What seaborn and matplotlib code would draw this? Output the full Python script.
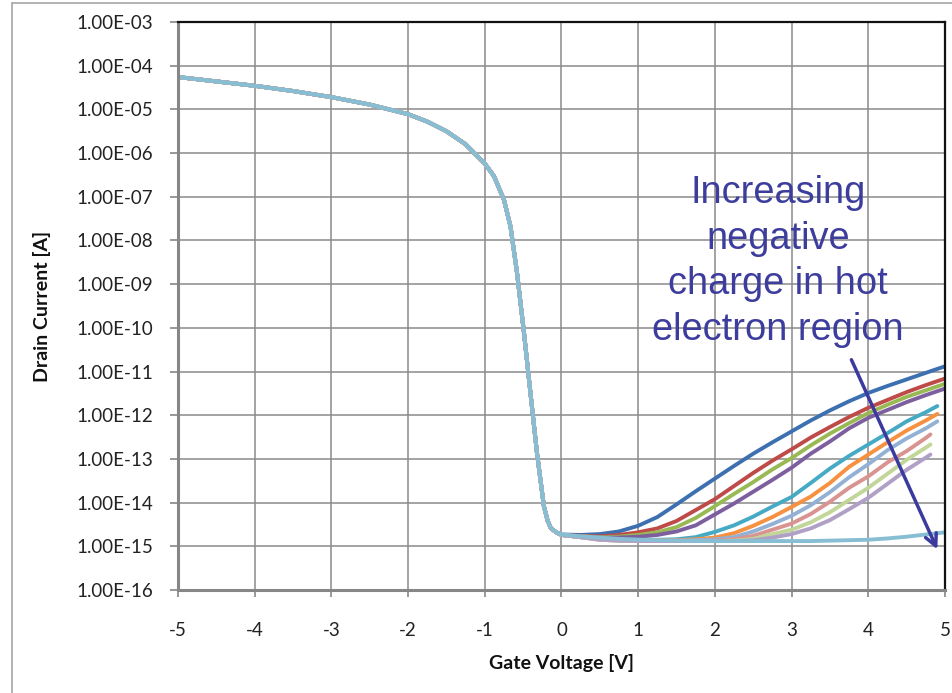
import matplotlib
matplotlib.use("Agg")
import matplotlib.pyplot as plt
import seaborn as sns
import pandas as pd
from matplotlib.ticker import FixedLocator, FixedFormatter, NullLocator
from matplotlib.lines import Line2D

# ---------------- data (log10 of drain current) ----------------
gate_v_sub = [-5.0, -4.5, -4.0, -3.5, -3.0, -2.5, -2.0, -1.75, -1.5, -1.25,
              -1.0, -0.88, -0.75, -0.665, -0.58, -0.49, -0.405, -0.32, -0.23,
              -0.18, -0.14, -0.07]
log_id_sub = [-4.26, -4.36, -4.46, -4.58, -4.72, -4.89, -5.11, -5.28, -5.50, -5.80,
              -6.24, -6.53, -7.07, -7.68, -8.74, -10.10, -11.49, -12.86, -14.08,
              -14.42, -14.58, -14.68]

gate_v_on = [0.0, 0.25, 0.5, 0.75, 1.0, 1.25, 1.5, 1.75, 2.0, 2.25,
             2.5, 2.75, 3.0, 3.25, 3.5, 3.75, 4.0, 4.25, 4.5, 4.75]

series_names = ["s1", "s2", "s3", "s4", "s5", "s6", "s7", "s8", "s9", "s10", "s11"]
series_end_v = [5.0, 5.0, 5.0, 5.0, 4.9, 4.9, 4.9, 4.81, 4.81, 4.81, 5.0]

log_id_s1 = [-14.73, -14.74, -14.72, -14.66, -14.53, -14.33, -14.04, -13.74, -13.45, -13.16,
             -12.88, -12.62, -12.37, -12.12, -11.89, -11.68, -11.49, -11.33, -11.18, -11.03,
             -10.88]
log_id_s2 = [-14.74, -14.76, -14.77, -14.74, -14.68, -14.59, -14.42, -14.17, -13.92, -13.62,
             -13.32, -13.04, -12.78, -12.51, -12.27, -12.04, -11.83, -11.65, -11.47, -11.31,
             -11.16]
log_id_s3 = [-14.74, -14.77, -14.79, -14.78, -14.74, -14.68, -14.56, -14.35, -14.08, -13.80,
             -13.53, -13.24, -12.98, -12.69, -12.42, -12.18, -11.95, -11.76, -11.58, -11.43,
             -11.28]
log_id_s4 = [-14.74, -14.78, -14.80, -14.80, -14.78, -14.74, -14.66, -14.52, -14.27, -14.02,
             -13.75, -13.48, -13.20, -12.88, -12.60, -12.30, -12.06, -11.88, -11.70, -11.54,
             -11.39]
log_id_s5 = [-14.74, -14.79, -14.82, -14.84, -14.85, -14.85, -14.84, -14.79, -14.67, -14.52,
             -14.32, -14.09, -13.87, -13.55, -13.22, -12.93, -12.67, -12.41, -12.14, -11.93,
             -11.79]
log_id_s6 = [-14.74, -14.79, -14.83, -14.85, -14.86, -14.86, -14.86, -14.84, -14.80, -14.70,
             -14.53, -14.33, -14.10, -13.86, -13.55, -13.18, -12.90, -12.62, -12.35, -12.12,
             -11.97]
log_id_s7 = [-14.74, -14.79, -14.84, -14.86, -14.87, -14.87, -14.87, -14.86, -14.84, -14.79,
             -14.66, -14.49, -14.30, -14.06, -13.76, -13.42, -13.12, -12.80, -12.53, -12.30,
             -12.14]
log_id_s8 = [-14.74, -14.79, -14.85, -14.87, -14.88, -14.88, -14.88, -14.88, -14.87, -14.84,
             -14.76, -14.62, -14.48, -14.26, -13.98, -13.66, -13.40, -13.08, -12.82, -12.52,
             -12.44]
log_id_s9 = [-14.74, -14.79, -14.85, -14.87, -14.88, -14.88, -14.88, -14.88, -14.88, -14.87,
             -14.83, -14.72, -14.62, -14.45, -14.22, -13.94, -13.66, -13.34, -13.02, -12.74,
             -12.67]
log_id_s10 = [-14.74, -14.79, -14.85, -14.87, -14.88, -14.88, -14.88, -14.88, -14.88, -14.88,
              -14.86, -14.80, -14.72, -14.59, -14.40, -14.15, -13.89, -13.57, -13.25, -12.97,
              -12.90]
log_id_s11 = [-14.73, -14.77, -14.80, -14.83, -14.85, -14.86, -14.87, -14.88, -14.88, -14.88,
              -14.88, -14.88, -14.88, -14.88, -14.87, -14.86, -14.85, -14.82, -14.78, -14.73,
              -14.68]

series_colors = ["#3d70b0", "#be4b48", "#98b954", "#7d5fa0", "#46aac4", "#f59140",
                 "#93b1d5", "#d99391", "#c1d698", "#b0a0c6", "#88bed3"]

y_tick_values = [1e-16, 1e-15, 1e-14, 1e-13, 1e-12, 1e-11, 1e-10,
                 1e-9, 1e-8, 1e-7, 1e-6, 1e-5, 1e-4, 1e-3]
y_tick_labels = ["1.00E-16", "1.00E-15", "1.00E-14", "1.00E-13", "1.00E-12",
                 "1.00E-11", "1.00E-10", "1.00E-09", "1.00E-08", "1.00E-07",
                 "1.00E-06", "1.00E-05", "1.00E-04", "1.00E-03"]
x_tick_values = [-5, -4, -3, -2, -1, 0, 1, 2, 3, 4, 5]
x_tick_labels = ["-5", "-4", "-3", "-2", "-1", "0", "1", "2", "3", "4", "5"]

annotation_text = "Increasing\nnegative\ncharge in hot\nelectron region"

# ---------------- build table ----------------
series_logs = [log_id_s1, log_id_s2, log_id_s3, log_id_s4, log_id_s5, log_id_s6,
               log_id_s7, log_id_s8, log_id_s9, log_id_s10, log_id_s11]
rows = []
for name, end_v, logs in zip(series_names, series_end_v, series_logs):
    vs = gate_v_sub + gate_v_on + [end_v]
    ls = log_id_sub + logs
    for v, l in zip(vs, ls):
        rows.append({"V": v, "I": 10.0 ** l, "series": name})
df = pd.DataFrame(rows)

# ---------------- plot ----------------
sns.set_theme(style="white")
plt.rcParams["font.family"] = ["Lato", "DejaVu Sans"]

W, H = 953, 693
fig = plt.figure(figsize=(W / 100, H / 100), dpi=100)
ax = fig.add_axes([178 / W, 1 - 590 / H, 767 / W, 568 / H])

sns.lineplot(data=df, x="V", y="I", hue="series", hue_order=series_names,
             palette=series_colors, estimator=None, sort=False, legend=False,
             linewidth=2.8, ax=ax)
for line in ax.get_lines():
    line.set_solid_joinstyle("round")
    line.set_solid_capstyle("round")

ax.set_yscale("log")
ax.set_xlim(-5, 5)
ax.set_ylim(1e-16, 1e-3)
ax.yaxis.set_major_locator(FixedLocator(y_tick_values))
ax.yaxis.set_major_formatter(FixedFormatter(y_tick_labels))
ax.yaxis.set_minor_locator(NullLocator())
ax.xaxis.set_major_locator(FixedLocator(x_tick_values))
ax.xaxis.set_major_formatter(FixedFormatter(x_tick_labels))

ax.grid(True, which="major", color="#8a8a8a", linewidth=1.1)
ax.set_axisbelow(True)

for s in ["left", "bottom"]:
    ax.spines[s].set_color("#868686")
    ax.spines[s].set_linewidth(2.2)
for s in ["top", "right"]:
    ax.spines[s].set_color("#111111")
    ax.spines[s].set_linewidth(1.6)

ax.tick_params(axis="y", direction="out", length=6, width=1.2, color="#868686",
               pad=12, labelsize=13.5, labelcolor="#222222", left=True)
ax.tick_params(axis="x", direction="out", length=5, width=1.2, color="#868686",
               pad=18, labelsize=13.5, labelcolor="#222222", bottom=True)

ax.set_xlabel("Gate Voltage [V]", fontsize=14, fontweight="bold", color="#111111")
ax.set_ylabel("Drain Current [A]", fontsize=14, fontweight="bold", color="#111111")
ax.xaxis.set_label_coords(0.5, (590 - 663) / 568)
ax.xaxis.label.set_va("center")
ax.yaxis.set_label_coords((42 - 178) / 767, 0.5)
ax.yaxis.label.set_va("center")

ax.text((778 - 178) / 767, (590 - 175) / 568, annotation_text, transform=ax.transAxes,
        ha="center", va="top", fontsize=27.4, family=["Liberation Sans"],
        color="#3d3d9e", linespacing=1.34)

ax.annotate("", xy=(4.9, 10 ** -15.07), xytext=(3.78, 10 ** -10.73),
            arrowprops=dict(arrowstyle="->,head_length=0.7,head_width=0.35",
                            color="#3b3b9f", lw=2.5, shrinkA=0, shrinkB=0))

# chart-area frame (partially visible)
fig.add_artist(Line2D([12 / W, 12 / W], [0, 1 - 3 / H], transform=fig.transFigure,
                      color="#a6a6a6", lw=1.2))
fig.add_artist(Line2D([12 / W, 1], [1 - 3 / H, 1 - 3 / H], transform=fig.transFigure,
                      color="#a6a6a6", lw=1.2))

fig.savefig("out.png", dpi=100)
